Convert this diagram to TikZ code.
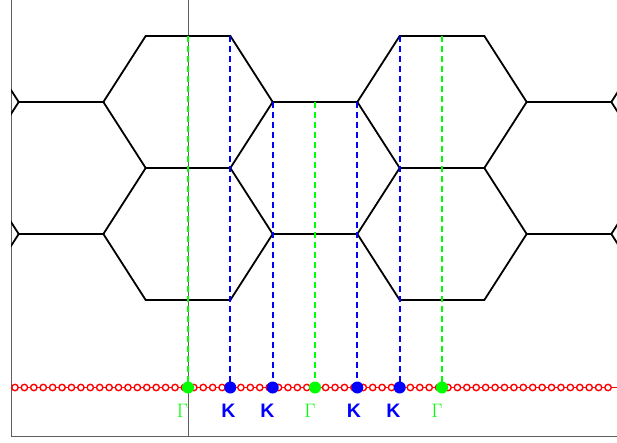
\documentclass[tikz,border=0pt]{standalone}
\usepackage{fontspec}
\newfontfamily\kfont{Liberation Sans}
\definecolor{pgreen}{RGB}{0,255,0}
\definecolor{pblue}{RGB}{0,0,255}
\definecolor{pred}{RGB}{255,0,0}
\definecolor{axgray}{RGB}{95,95,95}
\begin{document}
\begin{tikzpicture}[x=1pt,y=-1pt,
  hexline/.style={line width=1.8pt, black, line cap=round, line join=round},
  axisline/.style={line width=1pt, axgray},
  gdash/.style={pgreen, line width=1.7pt, dash pattern=on 6pt off 4pt},
  bdash/.style={pblue, line width=1.7pt, dash pattern=on 6pt off 4pt},
  gdot/.style={circle, fill=pgreen, inner sep=0pt, minimum size=12pt},
  kdot/.style={circle, fill=pblue, inner sep=0pt, minimum size=12pt},
  ring/.style={circle, draw=pred, fill=white, line width=1.4pt, inner sep=0pt, minimum size=6.4pt},
  klabel/.style={text=pblue, font=\kfont\bfseries\fontsize{19.5}{19.5}\selectfont, inner sep=0pt},
  glabel/.style={text=pgreen, font=\fontsize{19.5}{19.5}\selectfont, inner sep=0pt}]
\useasboundingbox (0,0) rectangle (617,443);
% axes
\draw[axisline] (11,0) -- (11,436) -- (617,436);
\draw[axisline] (188,0) -- (188,436);
% honeycomb
\begin{scope}
\clip (11,0) rectangle (617,443);
\def\h{42.33}
\def\xo{18.7}
% horizontal edges
\foreach \k/\y in {3/36,9/36,0/102,6/102,12/102,3/168,9/168,0/234,6/234,12/234,3/300,9/300}
  \draw[hexline] ({\xo+\k*\h},\y) -- ({\xo+(\k+2)*\h},\y);
% slanted edges
\foreach \k/\ya/\yb in {-1/36/102,-1/168/102,-1/168/234,-1/300/234,
    2/102/36,2/102/168,2/234/168,2/234/300,
    5/36/102,5/168/102,5/168/234,5/300/234,
    8/102/36,8/102/168,8/234/168,8/234/300,
    11/36/102,11/168/102,11/168/234,11/300/234,
    14/102/36,14/102/168,14/234/168,14/234/300}
  \draw[hexline] ({\xo+\k*\h},\ya) -- ({\xo+(\k+1)*\h},\yb);
\end{scope}
% k-path line with sample points
\coordinate (lineL) at (11,387.5);
\coordinate (lineR) at (617,387.5);
\draw[pred, line width=1.3pt] (lineL) -- (lineR);
\foreach \i in {0,...,63}
  \node[ring] (r\i) at ({15+\i*9.413},387.5) {};
% dashed guide lines
\coordinate (tg1) at (188,36);
\coordinate (tk1) at (230.3,36);
\coordinate (tk2) at (272.7,102);
\coordinate (tg2) at (315,102);
\coordinate (tk3) at (357.3,102);
\coordinate (tk4) at (399.7,36);
\coordinate (tg3) at (442,36);
\coordinate (bg1) at (188,387.5);
\coordinate (bk1) at (230.3,387.5);
\coordinate (bk2) at (272.7,387.5);
\coordinate (bg2) at (315,387.5);
\coordinate (bk3) at (357.3,387.5);
\coordinate (bk4) at (399.7,387.5);
\coordinate (bg3) at (442,387.5);
\draw[gdash] (tg1) -- (bg1);
\draw[gdash] (tg2) -- (bg2);
\draw[gdash] (tg3) -- (bg3);
\draw[bdash] (tk1) -- (bk1);
\draw[bdash] (tk2) -- (bk2);
\draw[bdash] (tk3) -- (bk3);
\draw[bdash] (tk4) -- (bk4);
% high-symmetry points
\node[gdot] (g1) at (bg1) {};
\node[kdot] (k1) at (bk1) {};
\node[kdot] (k2) at (bk2) {};
\node[gdot] (g2) at (bg2) {};
\node[kdot] (k3) at (bk3) {};
\node[kdot] (k4) at (bk4) {};
\node[gdot] (g3) at (bg3) {};
% labels
\node[glabel] (lg1) at (182.5,411) {Γ};
\node[klabel] (lk1) at (228.4,411) {K};
\node[klabel] (lk2) at (267.5,411) {K};
\node[glabel] (lg2) at (310,411) {Γ};
\node[klabel] (lk3) at (354,411) {K};
\node[klabel] (lk4) at (393.5,411) {K};
\node[glabel] (lg3) at (437,411) {Γ};
\end{tikzpicture}
\end{document}
